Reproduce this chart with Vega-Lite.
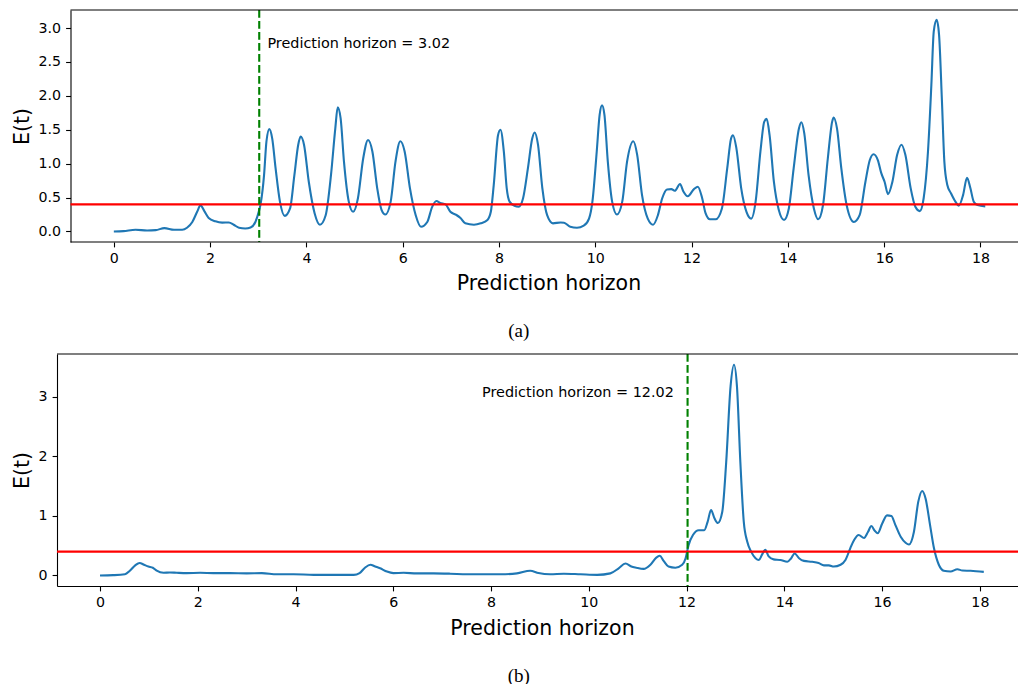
{
  "$schema": "https://vega.github.io/schema/vega-lite/v6.json",
  "background": "white",
  "padding": {"left": 12, "top": 8, "right": 0, "bottom": 0},
  "config": {
    "view": {"stroke": null},
    "axis": {
      "grid": false,
      "domainColor": "black", "domainWidth": 1.1,
      "tickColor": "black", "tickWidth": 1.1, "tickSize": 4.9,
      "labelFont": "DejaVu Sans", "labelFontSize": 14.2, "labelColor": "black", "labelPadding": 5,
      "titleFont": "DejaVu Sans", "titleFontSize": 20.5, "titleFontWeight": "normal", "titleColor": "black",
      "labelFlush": false, "labelOverlap": false
    },
    "title": {"font": "Liberation Serif", "fontSize": 19, "fontWeight": "normal", "color": "black"}
  },
  "datasets": {
    "a": [
      {"t":0,"E":0},{"t":0.2,"E":0.005},{"t":0.45,"E":0.025},{"t":0.69,"E":0.015},{"t":0.87,"E":0.02},{"t":1.05,"E":0.05},{"t":1.25,"E":0.025},{"t":1.42,"E":0.025},{"t":1.52,"E":0.055},{"t":1.63,"E":0.14},{"t":1.73,"E":0.29},{"t":1.8,"E":0.385},{"t":1.88,"E":0.3},{"t":1.97,"E":0.2},{"t":2.11,"E":0.15},{"t":2.25,"E":0.13},{"t":2.39,"E":0.133},{"t":2.49,"E":0.1},{"t":2.6,"E":0.055},{"t":2.73,"E":0.045},{"t":2.84,"E":0.06},{"t":2.94,"E":0.14},{"t":3.01,"E":0.29},{"t":3.05,"E":0.41},{"t":3.12,"E":0.83},{"t":3.17,"E":1.33},{"t":3.23,"E":1.51},{"t":3.29,"E":1.37},{"t":3.36,"E":0.93},{"t":3.45,"E":0.44},{"t":3.55,"E":0.23},{"t":3.66,"E":0.34},{"t":3.75,"E":0.83},{"t":3.83,"E":1.28},{"t":3.88,"E":1.4},{"t":3.95,"E":1.28},{"t":4.05,"E":0.73},{"t":4.17,"E":0.27},{"t":4.28,"E":0.1},{"t":4.4,"E":0.24},{"t":4.51,"E":0.83},{"t":4.6,"E":1.52},{"t":4.65,"E":1.83},{"t":4.71,"E":1.67},{"t":4.78,"E":1.03},{"t":4.88,"E":0.44},{"t":4.97,"E":0.29},{"t":5.07,"E":0.49},{"t":5.18,"E":1.08},{"t":5.28,"E":1.35},{"t":5.37,"E":1.18},{"t":5.47,"E":0.64},{"t":5.56,"E":0.32},{"t":5.64,"E":0.25},{"t":5.75,"E":0.44},{"t":5.85,"E":1.03},{"t":5.95,"E":1.33},{"t":6.04,"E":1.18},{"t":6.15,"E":0.64},{"t":6.27,"E":0.24},{"t":6.38,"E":0.07},{"t":6.51,"E":0.14},{"t":6.61,"E":0.36},{"t":6.7,"E":0.45},{"t":6.78,"E":0.42},{"t":6.89,"E":0.4},{"t":6.99,"E":0.29},{"t":7.1,"E":0.25},{"t":7.2,"E":0.2},{"t":7.3,"E":0.12},{"t":7.48,"E":0.1},{"t":7.62,"E":0.12},{"t":7.76,"E":0.17},{"t":7.83,"E":0.29},{"t":7.89,"E":0.68},{"t":7.98,"E":1.42},{"t":8.03,"E":1.5},{"t":8.1,"E":1.18},{"t":8.16,"E":0.64},{"t":8.22,"E":0.44},{"t":8.32,"E":0.38},{"t":8.41,"E":0.365},{"t":8.5,"E":0.49},{"t":8.6,"E":0.93},{"t":8.69,"E":1.37},{"t":8.74,"E":1.46},{"t":8.81,"E":1.28},{"t":8.9,"E":0.64},{"t":9.0,"E":0.24},{"t":9.12,"E":0.12},{"t":9.28,"E":0.133},{"t":9.35,"E":0.13},{"t":9.48,"E":0.07},{"t":9.62,"E":0.055},{"t":9.76,"E":0.085},{"t":9.87,"E":0.19},{"t":9.94,"E":0.44},{"t":10.03,"E":1.18},{"t":10.09,"E":1.72},{"t":10.14,"E":1.86},{"t":10.19,"E":1.72},{"t":10.26,"E":1.03},{"t":10.35,"E":0.44},{"t":10.45,"E":0.25},{"t":10.56,"E":0.44},{"t":10.66,"E":1.03},{"t":10.79,"E":1.33},{"t":10.87,"E":1.13},{"t":10.97,"E":0.54},{"t":11.09,"E":0.19},{"t":11.2,"E":0.1},{"t":11.3,"E":0.24},{"t":11.39,"E":0.49},{"t":11.49,"E":0.62},{"t":11.58,"E":0.625},{"t":11.65,"E":0.6},{"t":11.76,"E":0.7},{"t":11.83,"E":0.59},{"t":11.92,"E":0.52},{"t":12.05,"E":0.625},{"t":12.13,"E":0.66},{"t":12.22,"E":0.49},{"t":12.29,"E":0.27},{"t":12.38,"E":0.18},{"t":12.5,"E":0.18},{"t":12.63,"E":0.34},{"t":12.74,"E":0.93},{"t":12.82,"E":1.37},{"t":12.86,"E":1.42},{"t":12.93,"E":1.23},{"t":13.03,"E":0.64},{"t":13.14,"E":0.29},{"t":13.24,"E":0.19},{"t":13.33,"E":0.44},{"t":13.43,"E":1.18},{"t":13.51,"E":1.62},{"t":13.56,"E":1.66},{"t":13.62,"E":1.42},{"t":13.71,"E":0.73},{"t":13.81,"E":0.32},{"t":13.92,"E":0.17},{"t":14.02,"E":0.34},{"t":14.12,"E":0.93},{"t":14.23,"E":1.52},{"t":14.28,"E":1.61},{"t":14.34,"E":1.45},{"t":14.43,"E":0.83},{"t":14.54,"E":0.34},{"t":14.63,"E":0.18},{"t":14.73,"E":0.39},{"t":14.83,"E":1.08},{"t":14.92,"E":1.62},{"t":14.95,"E":1.68},{"t":15.02,"E":1.52},{"t":15.11,"E":0.93},{"t":15.22,"E":0.39},{"t":15.37,"E":0.14},{"t":15.49,"E":0.24},{"t":15.61,"E":0.73},{"t":15.7,"E":1.05},{"t":15.78,"E":1.14},{"t":15.87,"E":1.05},{"t":15.94,"E":0.86},{"t":16.01,"E":0.73},{"t":16.08,"E":0.55},{"t":16.17,"E":0.73},{"t":16.27,"E":1.13},{"t":16.36,"E":1.28},{"t":16.44,"E":1.13},{"t":16.55,"E":0.64},{"t":16.65,"E":0.36},{"t":16.74,"E":0.3},{"t":16.82,"E":0.49},{"t":16.91,"E":1.18},{"t":16.98,"E":2.16},{"t":17.03,"E":2.95},{"t":17.09,"E":3.12},{"t":17.14,"E":2.9},{"t":17.2,"E":1.92},{"t":17.25,"E":1.03},{"t":17.31,"E":0.69},{"t":17.39,"E":0.56},{"t":17.48,"E":0.44},{"t":17.55,"E":0.38},{"t":17.64,"E":0.54},{"t":17.72,"E":0.79},{"t":17.79,"E":0.64},{"t":17.86,"E":0.44},{"t":17.94,"E":0.39},{"t":18.1,"E":0.37}
    ],
    "b": [
      {"t":0,"E":0},{"t":0.27,"E":0.005},{"t":0.51,"E":0.02},{"t":0.61,"E":0.08},{"t":0.72,"E":0.17},{"t":0.81,"E":0.21},{"t":0.9,"E":0.18},{"t":0.99,"E":0.15},{"t":1.08,"E":0.13},{"t":1.16,"E":0.08},{"t":1.3,"E":0.045},{"t":1.43,"E":0.05},{"t":1.57,"E":0.045},{"t":1.77,"E":0.04},{"t":2.05,"E":0.045},{"t":2.32,"E":0.04},{"t":2.66,"E":0.04},{"t":3.0,"E":0.035},{"t":3.31,"E":0.04},{"t":3.62,"E":0.02},{"t":3.96,"E":0.02},{"t":4.37,"E":0.01},{"t":4.78,"E":0.01},{"t":5.19,"E":0.01},{"t":5.31,"E":0.04},{"t":5.42,"E":0.13},{"t":5.53,"E":0.18},{"t":5.63,"E":0.15},{"t":5.73,"E":0.12},{"t":5.87,"E":0.065},{"t":6.0,"E":0.04},{"t":6.21,"E":0.045},{"t":6.48,"E":0.035},{"t":6.82,"E":0.035},{"t":7.16,"E":0.03},{"t":7.51,"E":0.02},{"t":7.85,"E":0.02},{"t":8.19,"E":0.02},{"t":8.53,"E":0.035},{"t":8.8,"E":0.08},{"t":8.97,"E":0.04},{"t":9.21,"E":0.02},{"t":9.49,"E":0.03},{"t":9.83,"E":0.02},{"t":10.17,"E":0.01},{"t":10.44,"E":0.035},{"t":10.61,"E":0.12},{"t":10.75,"E":0.2},{"t":10.87,"E":0.15},{"t":10.97,"E":0.13},{"t":11.12,"E":0.11},{"t":11.26,"E":0.18},{"t":11.38,"E":0.3},{"t":11.45,"E":0.33},{"t":11.53,"E":0.245},{"t":11.63,"E":0.15},{"t":11.77,"E":0.13},{"t":11.91,"E":0.18},{"t":11.98,"E":0.29},{"t":12.04,"E":0.51},{"t":12.13,"E":0.68},{"t":12.25,"E":0.76},{"t":12.36,"E":0.76},{"t":12.43,"E":0.9},{"t":12.5,"E":1.1},{"t":12.57,"E":0.96},{"t":12.64,"E":0.88},{"t":12.73,"E":1.07},{"t":12.81,"E":1.9},{"t":12.9,"E":3.18},{"t":12.97,"E":3.54},{"t":13.03,"E":3.18},{"t":13.1,"E":1.9},{"t":13.17,"E":0.9},{"t":13.24,"E":0.57},{"t":13.32,"E":0.4},{"t":13.41,"E":0.29},{"t":13.48,"E":0.26},{"t":13.54,"E":0.345},{"t":13.61,"E":0.43},{"t":13.68,"E":0.32},{"t":13.78,"E":0.27},{"t":13.92,"E":0.26},{"t":14.06,"E":0.23},{"t":14.14,"E":0.29},{"t":14.21,"E":0.37},{"t":14.3,"E":0.29},{"t":14.4,"E":0.245},{"t":14.57,"E":0.23},{"t":14.7,"E":0.21},{"t":14.81,"E":0.17},{"t":14.91,"E":0.17},{"t":15.01,"E":0.15},{"t":15.15,"E":0.18},{"t":15.25,"E":0.26},{"t":15.35,"E":0.46},{"t":15.43,"E":0.6},{"t":15.52,"E":0.68},{"t":15.63,"E":0.63},{"t":15.71,"E":0.73},{"t":15.78,"E":0.83},{"t":15.85,"E":0.75},{"t":15.91,"E":0.71},{"t":16.0,"E":0.87},{"t":16.1,"E":1.01},{"t":16.19,"E":1.0},{"t":16.27,"E":0.85},{"t":16.38,"E":0.65},{"t":16.48,"E":0.55},{"t":16.55,"E":0.52},{"t":16.65,"E":0.73},{"t":16.74,"E":1.24},{"t":16.82,"E":1.42},{"t":16.89,"E":1.29},{"t":16.98,"E":0.85},{"t":17.06,"E":0.46},{"t":17.16,"E":0.18},{"t":17.26,"E":0.08},{"t":17.4,"E":0.067},{"t":17.54,"E":0.105},{"t":17.64,"E":0.083},{"t":17.81,"E":0.078},{"t":18.08,"E":0.06}
    ]
  },
  "spacing": 11,
  "vconcat": [
    {
      "width": 961.5,
      "height": 232,
      "title": {"text": "(a)", "orient": "bottom", "anchor": "middle", "frame": "group", "dx": -19, "baseline": "alphabetic", "offset": 43},
      "layer": [
        {
          "data": {"name": "a"},
          "mark": {"type": "line", "color": "#1f77b4", "strokeWidth": 2.1, "interpolate": "monotone"},
          "encoding": {
            "x": {"field": "t", "type": "quantitative", "scale": {"domain": [-1.1804, 18.79], "nice": false, "zero": false},
              "axis": {"title": "Prediction horizon", "domain": false, "values": [0,2,4,6,8,10,12,14,16,18], "format": "d", "titleX": 491.5, "titleY": 47.5, "titleBaseline": "alphabetic"}},
            "y": {"field": "E", "type": "quantitative", "scale": {"domain": [-0.155, 3.266], "nice": false, "zero": false},
              "axis": {"title": "E(t)", "offset": -13.5, "values": [0,0.5,1,1.5,2,2.5,3], "format": ".1f", "titleX": -48, "titleBaseline": "middle"}}
          }
        },
        {
          "data": {"values": [{"t": -0.9, "t2": 18.79, "E": 0.4}]},
          "mark": {"type": "rule", "color": "#ff0000", "strokeWidth": 2.1},
          "encoding": {
            "x": {"field": "t", "type": "quantitative", "scale": {"domain": [-1.1804, 18.79], "nice": false, "zero": false},
              "axis": {"title": "Prediction horizon", "domain": false, "values": [0,2,4,6,8,10,12,14,16,18], "format": "d", "titleX": 491.5, "titleY": 47.5, "titleBaseline": "alphabetic"}},
            "x2": {"field": "t2"},
            "y": {"field": "E", "type": "quantitative", "scale": {"domain": [-0.155, 3.266], "nice": false, "zero": false},
              "axis": {"title": "E(t)", "offset": -13.5, "values": [0,0.5,1,1.5,2,2.5,3], "format": ".1f", "titleX": -48, "titleBaseline": "middle"}}
          }
        },
        {
          "data": {"values": [{"t": 3.02}]},
          "mark": {"type": "rule", "color": "#008000", "strokeWidth": 2.1, "strokeDash": [7.7, 3.3]},
          "encoding": {
            "x": {"field": "t", "type": "quantitative", "scale": {"domain": [-1.1804, 18.79], "nice": false, "zero": false},
              "axis": {"title": "Prediction horizon", "domain": false, "values": [0,2,4,6,8,10,12,14,16,18], "format": "d", "titleX": 491.5, "titleY": 47.5, "titleBaseline": "alphabetic"}}
          }
        },
        {
          "data": {"values": [{"t": 3.19, "E": 2.7, "label": "Prediction horizon = 3.02"}]},
          "mark": {"type": "text", "font": "DejaVu Sans", "fontSize": 14.4, "align": "left", "baseline": "alphabetic", "color": "black"},
          "encoding": {
            "x": {"field": "t", "type": "quantitative", "scale": {"domain": [-1.1804, 18.79], "nice": false, "zero": false},
              "axis": {"title": "Prediction horizon", "domain": false, "values": [0,2,4,6,8,10,12,14,16,18], "format": "d", "titleX": 491.5, "titleY": 47.5, "titleBaseline": "alphabetic"}},
            "y": {"field": "E", "type": "quantitative", "scale": {"domain": [-0.155, 3.266], "nice": false, "zero": false},
              "axis": {"title": "E(t)", "offset": -13.5, "values": [0,0.5,1,1.5,2,2.5,3], "format": ".1f", "titleX": -48, "titleBaseline": "middle"}},
            "text": {"field": "label"}
          }
        },
        {
          "data": {"values": [{"t": -0.9, "t2": 18.79, "E": 3.266}, {"t": -0.9, "t2": 18.79, "E": -0.155}]},
          "mark": {"type": "rule", "color": "black", "strokeWidth": 1.1},
          "encoding": {
            "x": {"field": "t", "type": "quantitative", "scale": {"domain": [-1.1804, 18.79], "nice": false, "zero": false},
              "axis": {"title": "Prediction horizon", "domain": false, "values": [0,2,4,6,8,10,12,14,16,18], "format": "d", "titleX": 491.5, "titleY": 47.5, "titleBaseline": "alphabetic"}},
            "x2": {"field": "t2"},
            "y": {"field": "E", "type": "quantitative", "scale": {"domain": [-0.155, 3.266], "nice": false, "zero": false},
              "axis": {"title": "E(t)", "offset": -13.5, "values": [0,0.5,1,1.5,2,2.5,3], "format": ".1f", "titleX": -48, "titleBaseline": "middle"}}
          }
        }
      ]
    },
    {
      "width": 961.5,
      "height": 232,
      "title": {"text": "(b)", "orient": "bottom", "anchor": "middle", "frame": "group", "dx": -19, "baseline": "alphabetic", "offset": 43},
      "layer": [
        {
          "data": {"name": "b"},
          "mark": {"type": "line", "color": "#1f77b4", "strokeWidth": 2.1, "interpolate": "monotone"},
          "encoding": {
            "x": {"field": "t", "type": "quantitative", "scale": {"domain": [-0.88, 18.79], "nice": false, "zero": false},
              "axis": {"title": "Prediction horizon", "values": [0,2,4,6,8,10,12,14,16,18], "format": "d", "titleX": 485, "titleY": 48.5, "titleBaseline": "alphabetic"}},
            "y": {"field": "E", "type": "quantitative", "scale": {"domain": [-0.177, 3.72], "nice": false, "zero": false},
              "axis": {"title": "E(t)", "values": [0,1,2,3], "format": "d", "titleX": -34.5, "titleBaseline": "middle"}}
          }
        },
        {
          "data": {"values": [{"E": 0.4}]},
          "mark": {"type": "rule", "color": "#ff0000", "strokeWidth": 2.1},
          "encoding": {
            "y": {"field": "E", "type": "quantitative", "scale": {"domain": [-0.177, 3.72], "nice": false, "zero": false},
              "axis": {"title": "E(t)", "values": [0,1,2,3], "format": "d", "titleX": -34.5, "titleBaseline": "middle"}}
          }
        },
        {
          "data": {"values": [{"t": 12.02}]},
          "mark": {"type": "rule", "color": "#008000", "strokeWidth": 2.1, "strokeDash": [7.7, 3.3]},
          "encoding": {
            "x": {"field": "t", "type": "quantitative", "scale": {"domain": [-0.88, 18.79], "nice": false, "zero": false},
              "axis": {"title": "Prediction horizon", "values": [0,2,4,6,8,10,12,14,16,18], "format": "d", "titleX": 485, "titleY": 48.5, "titleBaseline": "alphabetic"}}
          }
        },
        {
          "data": {"values": [{"t": 11.74, "E": 3.0, "label": "Prediction horizon = 12.02"}]},
          "mark": {"type": "text", "font": "DejaVu Sans", "fontSize": 14.4, "align": "right", "baseline": "alphabetic", "color": "black"},
          "encoding": {
            "x": {"field": "t", "type": "quantitative", "scale": {"domain": [-0.88, 18.79], "nice": false, "zero": false},
              "axis": {"title": "Prediction horizon", "values": [0,2,4,6,8,10,12,14,16,18], "format": "d", "titleX": 485, "titleY": 48.5, "titleBaseline": "alphabetic"}},
            "y": {"field": "E", "type": "quantitative", "scale": {"domain": [-0.177, 3.72], "nice": false, "zero": false},
              "axis": {"title": "E(t)", "values": [0,1,2,3], "format": "d", "titleX": -34.5, "titleBaseline": "middle"}},
            "text": {"field": "label"}
          }
        },
        {
          "data": {"values": [{"E": 3.72}]},
          "mark": {"type": "rule", "color": "black", "strokeWidth": 1.1},
          "encoding": {
            "y": {"field": "E", "type": "quantitative", "scale": {"domain": [-0.177, 3.72], "nice": false, "zero": false},
              "axis": {"title": "E(t)", "values": [0,1,2,3], "format": "d", "titleX": -34.5, "titleBaseline": "middle"}}
          }
        }
      ]
    }
  ]
}
